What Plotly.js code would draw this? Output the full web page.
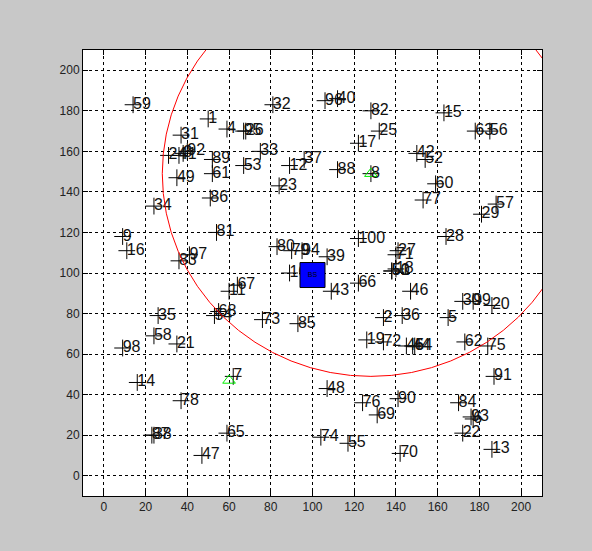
<!DOCTYPE html>
<html>
<head>
<meta charset="utf-8">
<script src="https://cdn.plot.ly/plotly-3.0.1.min.js"></script>
<style>
html,body{margin:0;padding:0;background:#c8c8c8;}
#chart{width:592px;height:551px;}
</style>
</head>
<body>
<div id="chart"></div>
<script>
// node ids and positions
const nodeIds = [1,2,3,4,5,6,7,8,9,10,11,12,13,14,15,16,17,18,19,20,
  21,22,23,24,25,26,27,28,29,30,31,32,33,34,35,36,37,38,39,40,
  41,42,43,44,45,46,47,48,49,50,51,52,53,54,55,56,57,58,59,60,
  61,62,63,64,65,66,67,68,69,70,71,72,73,74,75,76,77,78,79,80,
  81,82,83,84,85,86,87,88,89,90,91,92,93,94,95,96,97,98,99,100];
const nodeX = [50,134,38,59,165,177,62,128,9,89,60,89,186,16,163,11,122,140,126,186,
  35,172,84,31,132,68,141,164,181,172,37,81,75,24,26,143,96,24,107,112,
  36,150,109,148,145,147,47,107,35,138,138,154,67,53,117,185,188,24,14,159,
  52,173,178,149,59,122,64,55,131,142,140,134,76,104,184,124,153,37,90,83,
  54,128,36,170,93,51,23,112,52,141,187,40,176,95,67,106,41,9,177,122];
const nodeY = [176,78,159,171,78,28,49,149,118,100,91,153,13,46,179,111,164,102,67,84,
  65,21,143,158,170,170,111,118,129,86,168,183,160,133,79,79,156,20,108,186,
  158,159,91,64,64,91,10,43,147,101,101,156,153,79,16,170,134,69,183,144,
  149,66,170,64,21,95,94,81,30,11,109,66,77,19,64,36,136,37,111,113,
  120,180,106,36,75,137,20,151,156,38,49,160,29,111,170,185,109,63,86,117];
// anchor nodes shown with green triangles
const anchorIds = [7,8];
const anchorX = [60,128];
const anchorY = [47,149];
// base station
const bsX = [100];
const bsY = [99];
const bsLabel = ['BS'];
// range circle around anchor 8
const circleCenter = [128,149];
const circleRadius = 100;

const traces = [
  {x:nodeX, y:nodeY, mode:'markers', type:'scatter',
   marker:{symbol:'cross-thin-open', size:12, color:'black', line:{color:'black', width:1}},
   hoverinfo:'skip'},
  {x:anchorX, y:anchorY, mode:'markers', type:'scatter',
   marker:{symbol:'triangle-up-open', size:11, color:'#00ee00', line:{color:'#00ee00', width:1}},
   hoverinfo:'skip'},
  {x:nodeX, y:nodeY, mode:'text', type:'scatter', text:nodeIds.map(String),
   textposition:'middle right',
   marker:{size:0},
   textfont:{family:'Liberation Sans, Arial, sans-serif', size:16, color:'#111'},
   hoverinfo:'skip'},
  {x:bsX, y:bsY, mode:'markers+text', type:'scatter', text:bsLabel,
   textposition:'middle center',
   textfont:{family:'Liberation Sans, Arial, sans-serif', size:7, color:'#000'},
   marker:{symbol:'square', size:25, color:'#0000ff', line:{color:'black', width:1}},
   hoverinfo:'skip'}
];

const layout = {
  width:592, height:551,
  paper_bgcolor:'#c8c8c8', plot_bgcolor:'#ffffff',
  margin:{l:83, r:50, t:50, b:55},
  showlegend:false,
  font:{family:'Liberation Sans, Arial, sans-serif', size:12, color:'#222'},
  xaxis:{range:[-10,210], tick0:0, dtick:20, showgrid:true, gridcolor:'#000', gridwidth:1,
    griddash:'3px,3px', zeroline:false, showline:true, linecolor:'#000', linewidth:1,
    mirror:'allticks', ticks:'inside', ticklen:5, tickcolor:'#000', fixedrange:true},
  yaxis:{range:[-10,210], tick0:0, dtick:20, showgrid:true, gridcolor:'#000', gridwidth:1,
    griddash:'3px,3px', zeroline:false, showline:true, linecolor:'#000', linewidth:1,
    mirror:'allticks', ticks:'inside', ticklen:5, tickcolor:'#000', fixedrange:true},
  shapes:[{type:'circle', xref:'x', yref:'y',
    x0:circleCenter[0]-circleRadius, x1:circleCenter[0]+circleRadius,
    y0:circleCenter[1]-circleRadius, y1:circleCenter[1]+circleRadius,
    line:{color:'#ff0000', width:1}, layer:'above'}]
};

Plotly.newPlot('chart', traces, layout, {displayModeBar:false, staticPlot:true});
</script>
</body>
</html>
